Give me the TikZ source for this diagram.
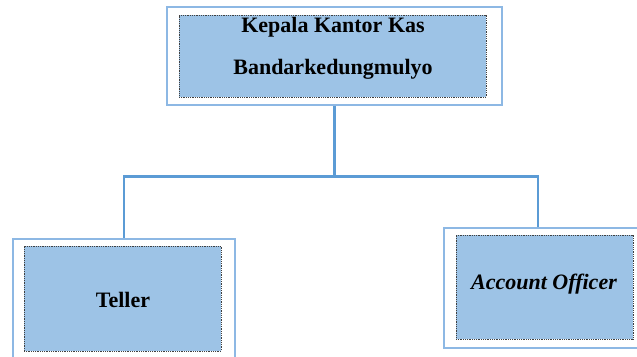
\documentclass[tikz,border=0pt]{standalone}
\usepackage{fontspec}
\setmainfont{Liberation Serif}
\usetikzlibrary{positioning}
\definecolor{framecol}{HTML}{8DB8E4}
\definecolor{linecol}{HTML}{5B9BD5}
\definecolor{boxfill}{HTML}{9DC3E6}
\tikzset{
  framebox/.style={ draw=framecol, line width=1.1pt, fill=white, inner sep=0pt }
}
\tikzset{
  unitbox/.style={ draw=black!75, densely dotted, line width=0.8pt, fill=boxfill, inner sep=0pt }
}
\tikzset{
  unittext/.style={ font=\fontsize{22}{42}\selectfont\bfseries, align=center }
}
\tikzset{
  link/.style={ draw=linecol, line width=2.4pt }
}

\begin{document}
\begin{tikzpicture}[x=1pt, y=-1pt]
      \useasboundingbox (0,0) rectangle (637,356);
      \clip (0,0) rectangle (637,356);

      % kepala kantor
      \node[framebox, minimum width=335pt, minimum height=98pt] (headframe) at (334.5, 56) {};
      \node[unitbox, minimum width=307pt, minimum height=82pt] (headbox) at (332.5, 56) {};
      \node[unittext] (head) at (333, 48) {Kepala Kantor Kas\\Bandarkedungmulyo};

      % teller
      \node[framebox, minimum width=222pt, minimum height=125pt] (tellerframe) at (124, 301.5) {};
      \node[unitbox, minimum width=197pt, minimum height=105pt] (tellerbox) at (122.5, 298.5) {};
      \node[unittext] (teller) at (123, 300) {Teller};

      % account officer
      \node[framebox, minimum width=196pt, minimum height=120pt] (aoframe) at (542, 288) {};
      \node[unitbox, minimum width=177pt, minimum height=104pt] (aobox) at (544.5, 287) {};
      \node[unittext, font=\fontsize{22}{26}\selectfont\bfseries\itshape] (ao) at (544, 284) {Account Officer};

      \draw[link] (headframe.south) -- ++(0,71) coordinate (mid);
      \draw[link] (mid) -| (tellerframe.north);
      \draw[link] (mid) -| ([xshift=-4pt]aoframe.north);
    \end{tikzpicture}
\end{document}
